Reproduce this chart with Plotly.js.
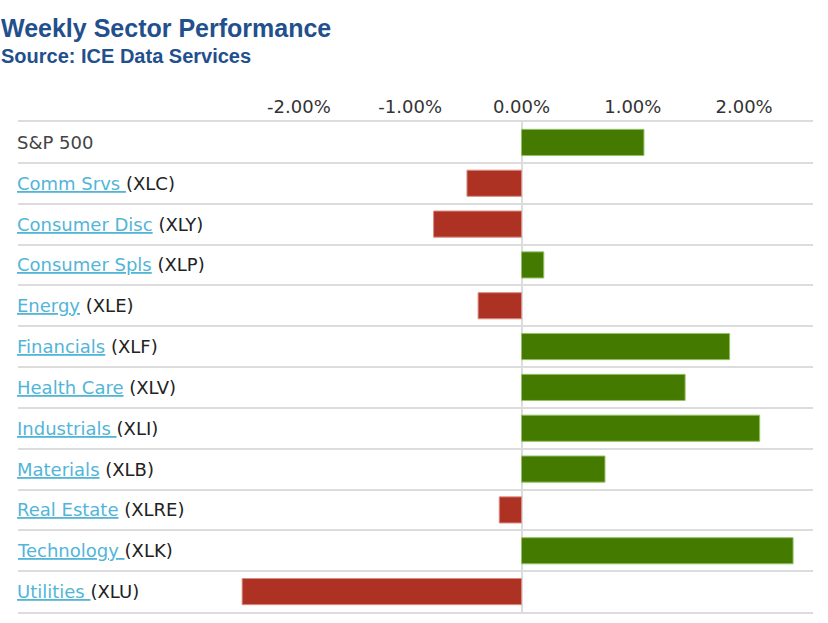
<!DOCTYPE html>
<html>
<head>
<meta charset="utf-8">
<script src="https://cdn.plot.ly/plotly-3.0.1.min.js"></script>
<style>html,body{margin:0;padding:0;background:#fff;}#chart{width:828px;height:623px;}</style>
</head>
<body>
<div id="chart"></div>
<script>
// ---- data ----
const sectorNames = ["S&P 500", "Comm Srvs ", "Consumer Disc", "Consumer Spls", "Energy", "Financials", "Health Care", "Industrials ", "Materials", "Real Estate", "Technology ", "Utilities "];
const tickers = ["", "XLC", "XLY", "XLP", "XLE", "XLF", "XLV", "XLI", "XLB", "XLRE", "XLK", "XLU"];
const weeklyChange = [1.10, -0.49, -0.79, 0.20, -0.39, 1.87, 1.47, 2.14, 0.75, -0.20, 2.44, -2.51];
const tickValues = [-2, -1, 0, 1, 2];
const tickLabels = ["-2.00%", "-1.00%", "0.00%", "1.00%", "2.00%"];

const titleText = "Weekly Sector Performance";
const subtitleText = "Source: ICE Data Services";

const GREEN = "#447a00", GREEN_EDGE = "#93c264";
const RED = "#ad3223", RED_EDGE = "#d98c82";
const LINK = "#52b5d8";
const LINE = "#dcdcdc";

const cats = sectorNames.map((s, i) => "c" + i);

const trace = {
  type: "bar",
  orientation: "h",
  x: weeklyChange,
  y: cats,
  width: 0.64,
  marker: {
    color: weeklyChange.map(v => v >= 0 ? GREEN : RED),
    line: { color: weeklyChange.map(v => v >= 0 ? GREEN_EDGE : RED_EDGE), width: 1 }
  },
  hoverinfo: "x"
};

const annotations = sectorNames.map((s, i) => {
  let txt;
  if (tickers[i] === "") {
    txt = '<span style="color:#444">' + s + '</span>';
  } else {
    const sep = s.endsWith(" ") ? "" : "&nbsp;";
    txt = '<span style="color:' + LINK + ';text-decoration:underline">' + s.replace(/ /g, "&nbsp;") + '</span>' + sep + '(' + tickers[i] + ')';
  }
  return {
    xref: "paper", yref: "y", x: -3 / 795, y: cats[i],
    xanchor: "left", yanchor: "middle", showarrow: false,
    text: txt, align: "left",
    font: { family: "DejaVu Sans", size: 18, color: "#222" }
  };
});

annotations.push({
  xref: "paper", yref: "paper", x: (-1 - 18) / 795, y: (612 - 28) / 490,
  xanchor: "left", yanchor: "middle", showarrow: false,
  text: "<b>" + titleText + "</b>",
  font: { family: "Liberation Sans, Arial", size: 25, color: "#22508c" }
});
annotations.push({
  xref: "paper", yref: "paper", x: (-1 - 18) / 795, y: (612 - 56) / 490,
  xanchor: "left", yanchor: "middle", showarrow: false,
  text: "<b>" + subtitleText + "</b>",
  font: { family: "Liberation Sans, Arial", size: 20, color: "#22508c" }
});

const layout = {
  width: 828, height: 623,
  margin: { l: 18, r: 15, t: 122, b: 11 },
  paper_bgcolor: "#fff", plot_bgcolor: "#fff",
  showlegend: false,
  xaxis: {
    side: "top",
    range: [-4.524, 2.619],
    tickvals: tickValues,
    ticktext: tickLabels,
    showgrid: false,
    zeroline: true, zerolinecolor: LINE, zerolinewidth: 2,
    showline: true, mirror: true, linecolor: LINE, linewidth: 2,
    ticks: "",
    tickfont: { family: "DejaVu Sans", size: 18, color: "#333" },
    fixedrange: true
  },
  yaxis: {
    type: "category",
    categoryorder: "array", categoryarray: cats,
    range: [11.5, -0.5],
    tickson: "boundaries",
    showgrid: true, gridcolor: LINE, gridwidth: 2,
    showticklabels: false, ticks: "",
    zeroline: false, showline: false,
    fixedrange: true
  },
  annotations: annotations
};

Plotly.newPlot("chart", [trace], layout, { displayModeBar: false, staticPlot: true });
</script>
</body>
</html>
